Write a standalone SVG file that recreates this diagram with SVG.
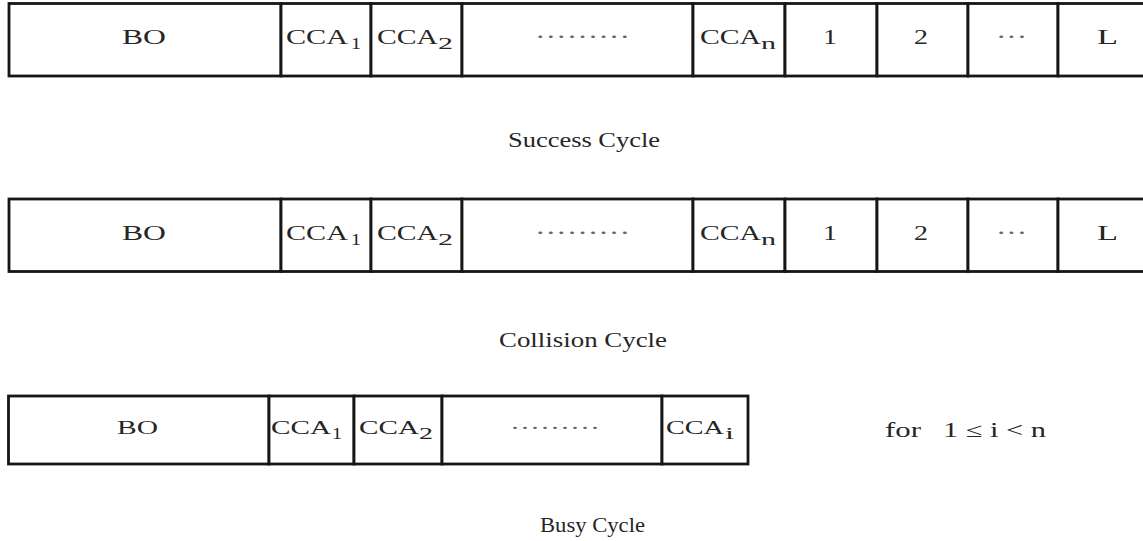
<svg xmlns="http://www.w3.org/2000/svg" width="1143" height="541" viewBox="0 0 1143 541">
  <style>
    .cell { fill: #ffffff; stroke: #161616; stroke-width: 2.8; }
    .t { font-family: "Liberation Serif", "Times New Roman", serif; font-size: 20px; fill: #262626; }
    .t3 { font-family: "Liberation Serif", "Times New Roman", serif; font-size: 19px; fill: #262626; }
    .sub { font-family: "Liberation Serif", "Times New Roman", serif; font-size: 16px; fill: #262626; }
    .dots { fill: #666666; }
    .cap { font-family: "Liberation Serif", "Times New Roman", serif; font-size: 20px; fill: #262626; }
  </style>
  <rect width="1143" height="541" fill="#ffffff"/>

  <!-- Success cycle frame -->
  <g id="success-cycle">
    <g id="s-bo"><rect class="cell" x="9" y="3.5" width="272" height="72.5"/>
      <text class="t" x="122" y="44" textLength="44" lengthAdjust="spacingAndGlyphs">BO</text></g>
    <g id="s-cca1"><rect class="cell" x="281" y="3.5" width="90" height="72.5"/>
      <text class="t" x="286" y="44" textLength="62" lengthAdjust="spacingAndGlyphs">CCA</text>
      <text class="sub" x="351" y="49" textLength="10" lengthAdjust="spacingAndGlyphs">1</text></g>
    <g id="s-cca2"><rect class="cell" x="371" y="3.5" width="91" height="72.5"/>
      <text class="t" x="377" y="44" textLength="61" lengthAdjust="spacingAndGlyphs">CCA</text>
      <text class="sub" x="438" y="49" textLength="15" lengthAdjust="spacingAndGlyphs">2</text></g>
    <g id="s-dots"><rect class="cell" x="462" y="3.5" width="231" height="72.5"/>
      <text class="t dots" x="535" y="44" textLength="95" lengthAdjust="spacingAndGlyphs">·········</text></g>
    <g id="s-ccan"><rect class="cell" x="693" y="3.5" width="92" height="72.5"/>
      <text class="t" x="700" y="44" textLength="61" lengthAdjust="spacingAndGlyphs">CCA</text>
      <text class="sub" x="761" y="49" textLength="15" lengthAdjust="spacingAndGlyphs">n</text></g>
    <g id="s-1"><rect class="cell" x="785" y="3.5" width="92" height="72.5"/>
      <text class="t" x="823" y="44" textLength="14" lengthAdjust="spacingAndGlyphs">1</text></g>
    <g id="s-2"><rect class="cell" x="877" y="3.5" width="91" height="72.5"/>
      <text class="t" x="914" y="44" textLength="14" lengthAdjust="spacingAndGlyphs">2</text></g>
    <g id="s-ell"><rect class="cell" x="968" y="3.5" width="90" height="72.5"/>
      <text class="t dots" x="996" y="44" textLength="31" lengthAdjust="spacingAndGlyphs">···</text></g>
    <g id="s-l"><rect class="cell" x="1058" y="3.5" width="90" height="72.5"/>
      <text class="t" x="1097" y="44" textLength="21" lengthAdjust="spacingAndGlyphs">L</text></g>
  </g>
  <text class="cap" x="508" y="147" textLength="152" lengthAdjust="spacingAndGlyphs">Success Cycle</text>

  <!-- Collision cycle frame -->
  <g id="collision-cycle">
    <g id="c-bo"><rect class="cell" x="9" y="199" width="272" height="72.5"/>
      <text class="t" x="122" y="239.5" textLength="44" lengthAdjust="spacingAndGlyphs">BO</text></g>
    <g id="c-cca1"><rect class="cell" x="281" y="199" width="90" height="72.5"/>
      <text class="t" x="286" y="239.5" textLength="62" lengthAdjust="spacingAndGlyphs">CCA</text>
      <text class="sub" x="351" y="244.5" textLength="10" lengthAdjust="spacingAndGlyphs">1</text></g>
    <g id="c-cca2"><rect class="cell" x="371" y="199" width="91" height="72.5"/>
      <text class="t" x="377" y="239.5" textLength="61" lengthAdjust="spacingAndGlyphs">CCA</text>
      <text class="sub" x="438" y="244.5" textLength="15" lengthAdjust="spacingAndGlyphs">2</text></g>
    <g id="c-dots"><rect class="cell" x="462" y="199" width="231" height="72.5"/>
      <text class="t dots" x="535" y="239.5" textLength="95" lengthAdjust="spacingAndGlyphs">·········</text></g>
    <g id="c-ccan"><rect class="cell" x="693" y="199" width="92" height="72.5"/>
      <text class="t" x="700" y="239.5" textLength="61" lengthAdjust="spacingAndGlyphs">CCA</text>
      <text class="sub" x="761" y="244.5" textLength="15" lengthAdjust="spacingAndGlyphs">n</text></g>
    <g id="c-1"><rect class="cell" x="785" y="199" width="92" height="72.5"/>
      <text class="t" x="823" y="239.5" textLength="14" lengthAdjust="spacingAndGlyphs">1</text></g>
    <g id="c-2"><rect class="cell" x="877" y="199" width="91" height="72.5"/>
      <text class="t" x="914" y="239.5" textLength="14" lengthAdjust="spacingAndGlyphs">2</text></g>
    <g id="c-ell"><rect class="cell" x="968" y="199" width="90" height="72.5"/>
      <text class="t dots" x="996" y="239.5" textLength="31" lengthAdjust="spacingAndGlyphs">···</text></g>
    <g id="c-l"><rect class="cell" x="1058" y="199" width="90" height="72.5"/>
      <text class="t" x="1097" y="239.5" textLength="21" lengthAdjust="spacingAndGlyphs">L</text></g>
  </g>
  <text class="cap" x="499" y="347" textLength="168" lengthAdjust="spacingAndGlyphs">Collision Cycle</text>

  <!-- Busy cycle frame -->
  <g id="busy-cycle">
    <g id="b-bo"><rect class="cell" x="8.5" y="396" width="260.5" height="68"/>
      <text class="t3" x="117" y="434" textLength="41" lengthAdjust="spacingAndGlyphs">BO</text></g>
    <g id="b-cca1"><rect class="cell" x="269" y="396" width="85" height="68"/>
      <text class="t3" x="271" y="434" textLength="60" lengthAdjust="spacingAndGlyphs">CCA</text>
      <text class="sub" x="332" y="439" textLength="10" lengthAdjust="spacingAndGlyphs">1</text></g>
    <g id="b-cca2"><rect class="cell" x="354" y="396" width="88" height="68"/>
      <text class="t3" x="359" y="434" textLength="60" lengthAdjust="spacingAndGlyphs">CCA</text>
      <text class="sub" x="419" y="439" textLength="14" lengthAdjust="spacingAndGlyphs">2</text></g>
    <g id="b-dots"><rect class="cell" x="442" y="396" width="220" height="68"/>
      <text class="t3 dots" x="510" y="434" textLength="90" lengthAdjust="spacingAndGlyphs">·········</text></g>
    <g id="b-ccai"><rect class="cell" x="662" y="396" width="86" height="68"/>
      <text class="t3" x="666" y="434" textLength="58" lengthAdjust="spacingAndGlyphs">CCA</text>
      <text class="sub" x="725" y="439" textLength="9" lengthAdjust="spacingAndGlyphs">i</text></g>
  </g>
  <g id="busy-condition">
    <text class="cap" x="885" y="437" textLength="36" lengthAdjust="spacingAndGlyphs">for</text>
    <text class="cap" x="943" y="437" textLength="103" lengthAdjust="spacingAndGlyphs">1 ≤ i &lt; n</text>
  </g>
  <text class="cap" x="540" y="532" textLength="105" lengthAdjust="spacingAndGlyphs">Busy Cycle</text>
</svg>
